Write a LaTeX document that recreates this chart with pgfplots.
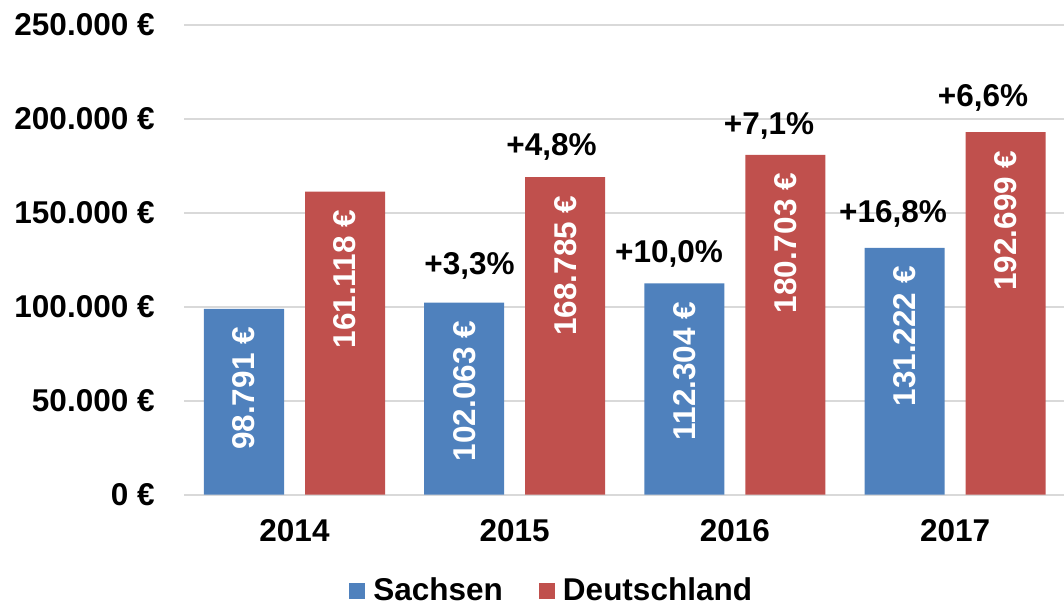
\documentclass[border=0pt]{standalone}
\usepackage{fontspec}
\setmainfont{Liberation Sans}
\usepackage{graphicx}
\usepackage{pgfplots}
\pgfplotsset{compat=1.18}
\definecolor{sachsen}{HTML}{4F81BD}
\definecolor{dtl}{HTML}{C0504D}
\definecolor{gridgray}{HTML}{D9D9D9}
\newcommand{\lbl}{\fontsize{15.75pt}{18pt}\selectfont\bfseries}
\pgfplotsset{
    sq legend/.style={legend image code/.code={\fill[##1] (0pt,-4pt) rectangle (8pt,4pt);}},
    val labels/.style={
        nodes near coords={\rotatebox{90}{\pgfmathprintnumber{\pgfplotspointmeta}~€}},
        nodes near coords style={text=white, font=\lbl, inner sep=0pt,
            anchor=north, xshift=#1, yshift=-9pt}},
}

\begin{document}
\begin{tikzpicture}
\begin{axis}[
    scale only axis,
    width=440.4pt, height=235pt,
    xmin=-0.5, xmax=3.5,
    ymin=0, ymax=250000,
    axis line style={draw=none},
    major tick length=0pt,
    ymajorgrids,
    grid style={gridgray, line width=1pt},
    xtick={0,1,2,3},
    xticklabels={2014,2015,2016,2017},
    ytick={0,50000,100000,150000,200000,250000},
    scaled y ticks=false,
    yticklabel={\pgfmathprintnumber{\tick}~€},
    /pgf/number format/fixed,
    /pgf/number format/precision=0,
    /pgf/number format/1000 sep={.},
    /pgf/number format/assume math mode=true,
    ticklabel style={font=\lbl},
    xticklabel style={inner sep=0pt, anchor=north, yshift=-12.5pt},
    yticklabel style={inner sep=0pt, anchor=east, xshift=-14.7pt},
    legend columns=2,
    legend style={at={(0.1869,-0.205)}, anchor=west, draw=none, fill=none,
        inner sep=0pt, font=\lbl, nodes={inner sep=0pt},
        /tikz/every odd column/.append style={column sep=4pt},
        /tikz/every even column/.append style={column sep=18pt}},
]

% Sachsen
\addplot[ybar, bar width=40pt, bar shift=-25.25pt, fill=sachsen, draw=none,
    sq legend, val labels=-25.25pt]
    coordinates {(0,98791) (1,102063) (2,112304) (3,131222)};

% Deutschland
\addplot[ybar, bar width=40pt, bar shift=25.25pt, fill=dtl, draw=none,
    sq legend, val labels=25.25pt]
    coordinates {(0,161118) (1,168785) (2,180703) (3,192699)};

% change labels (position of the text baseline)
\addplot[draw=none, mark=none, forget plot,
    point meta=explicit symbolic, nodes near coords,
    nodes near coords style={text=black, font=\lbl, inner sep=0pt, anchor=base}]
    coordinates {
    (0.795,117287) [+3,3\%]
    (1.167,180585) [+4,8\%]
    (1.701,123670) [+10,0\%]
    (2.155,191755) [+7,1\%]
    (2.718,144947) [+16,8\%]
    (3.127,206649) [+6,6\%]
    };

\legend{Sachsen, Deutschland}
\end{axis}
\pgfresetboundingbox
\path[use as bounding box] (-92.2pt,-55.25pt) rectangle (439.8pt,247.25pt);
\end{tikzpicture}
\end{document}
